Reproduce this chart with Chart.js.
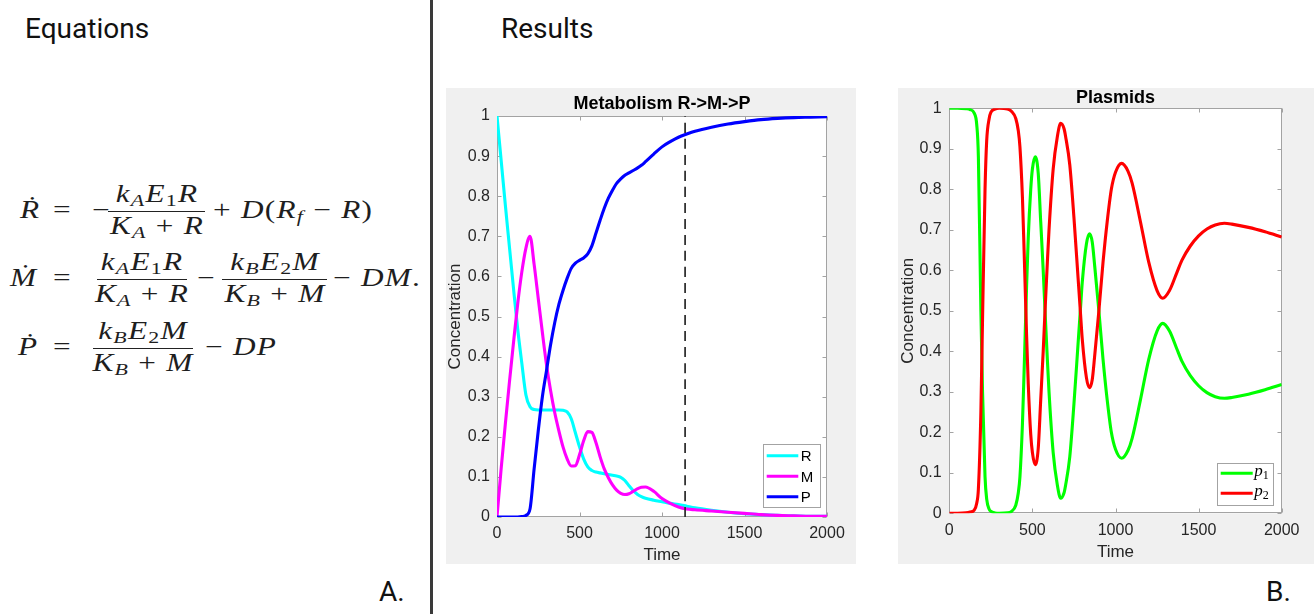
<!DOCTYPE html>
<html><head><meta charset="utf-8">
<script src="https://cdn.jsdelivr.net/npm/chart.js@4.4.0/dist/chart.umd.min.js"></script>
<style>
html,body{margin:0;padding:0;background:#fff;}
body{width:1314px;height:614px;position:relative;overflow:hidden;}
.hd{position:absolute;font-family:Roboto,sans-serif;font-size:28px;line-height:1;color:#111;top:calc(var(--b) - 0.8415em);white-space:nowrap}
.divider{position:absolute;left:430px;top:0;width:3px;height:614px;background:#3a3a3a}
.tok{position:absolute;font-family:'Liberation Serif',serif;font-size:25px;line-height:1;color:#1e1e1e;top:calc(var(--b) - 0.8375em);white-space:nowrap;letter-spacing:1px;transform-origin:0 0;transform:scaleX(1.25)}
.tok.c{transform-origin:50% 0;transform:translateX(-50%) scaleX(1.25)}
.tok i{font-style:italic}
.tok sub{font-size:0.7em;vertical-align:-0.25em;line-height:0}
.bar{position:absolute;height:1.3px;background:#222}
.box{position:absolute;background:#f0f0f0}
.box canvas{position:absolute;left:0;top:0}
</style></head>
<body>
<div class="hd" style="left:25px;--b:39px">Equations</div>
<div class="hd" style="left:501px;--b:38.5px">Results</div>
<div class="hd" style="left:379px;--b:601.5px">A.</div>
<div class="hd" style="left:1266px;--b:601.5px">B.</div>
<div class="divider"></div>

<!-- Row 1 -->
<div class="tok" style="left:20px;--b:217.5px"><i>Ṙ</i></div>
<div class="tok" style="left:53px;--b:217.5px">=</div>
<div class="tok" style="left:92px;--b:217.5px">−</div>
<div class="tok c" style="left:156.5px;--b:201.5px"><i>k</i><sub><i>A</i></sub><i>E</i><sub>1</sub><i>R</i></div>
<div class="bar" style="left:108px;top:210.5px;width:97px"></div>
<div class="tok c" style="left:156.5px;--b:233.5px"><i>K</i><sub><i>A</i></sub> + <i>R</i></div>
<div class="tok" style="left:213px;--b:217.5px">+ <i>D</i>(<i>R</i><sub><i>f</i></sub> − <i>R</i>)</div>

<!-- Row 2 -->
<div class="tok" style="left:10px;--b:286px"><i>Ṁ</i></div>
<div class="tok" style="left:53px;--b:286px">=</div>
<div class="tok c" style="left:142px;--b:270px"><i>k</i><sub><i>A</i></sub><i>E</i><sub>1</sub><i>R</i></div>
<div class="bar" style="left:97px;top:279px;width:90px"></div>
<div class="tok c" style="left:142px;--b:302px"><i>K</i><sub><i>A</i></sub> + <i>R</i></div>
<div class="tok" style="left:197px;--b:286px">−</div>
<div class="tok c" style="left:274.5px;--b:270px"><i>k</i><sub><i>B</i></sub><i>E</i><sub>2</sub><i>M</i></div>
<div class="bar" style="left:222px;top:279px;width:105px"></div>
<div class="tok c" style="left:274.5px;--b:302px"><i>K</i><sub><i>B</i></sub> + <i>M</i></div>
<div class="tok" style="left:333px;--b:286px">− <i>DM</i>.</div>

<!-- Row 3 -->
<div class="tok" style="left:18px;--b:354.5px"><i>Ṗ</i></div>
<div class="tok" style="left:53px;--b:354.5px">=</div>
<div class="tok c" style="left:143px;--b:338.5px"><i>k</i><sub><i>B</i></sub><i>E</i><sub>2</sub><i>M</i></div>
<div class="bar" style="left:93px;top:347.5px;width:100px"></div>
<div class="tok c" style="left:143px;--b:370.5px"><i>K</i><sub><i>B</i></sub> + <i>M</i></div>
<div class="tok" style="left:205px;--b:354.5px">− <i>DP</i></div>

<div class="box" style="left:446px;top:88px;width:410px;height:476px"><canvas id="c1" width="410" height="476"></canvas></div>
<div class="box" style="left:898px;top:88px;width:416px;height:476px"><canvas id="c2" width="416" height="476"></canvas></div>

<script>
// ---------- data ----------
const timeTicks = [0, 500, 1000, 1500, 2000];
const concTicks = [0, 0.1, 0.2, 0.3, 0.4, 0.5, 0.6, 0.7, 0.8, 0.9, 1];

const metabTime = [0,25,50,75,100,125,150,175,200,225,250,275,300,325,350,375,400,425,450,475,500,525,550,575,600,625,650,675,700,725,750,775,800,825,850,875,900,950,1000,1050,1100,1150,1200,1300,1400,1500,1600,1700,1800,1900,2000];
const metabR = [1.000,0.890,0.780,0.675,0.570,0.470,0.385,0.305,0.275,0.268,0.267,0.267,0.267,0.267,0.267,0.267,0.266,0.262,0.245,0.210,0.175,0.145,0.125,0.116,0.112,0.110,0.108,0.106,0.104,0.102,0.099,0.091,0.078,0.066,0.057,0.051,0.047,0.042,0.038,0.034,0.031,0.027,0.023,0.017,0.012,0.008,0.006,0.004,0.003,0.002,0.002];
const metabM = [0.000,0.120,0.230,0.335,0.435,0.530,0.610,0.670,0.700,0.630,0.545,0.460,0.380,0.315,0.260,0.215,0.175,0.145,0.127,0.128,0.155,0.190,0.213,0.211,0.185,0.150,0.120,0.098,0.080,0.067,0.059,0.056,0.058,0.064,0.070,0.074,0.075,0.064,0.046,0.034,0.025,0.020,0.018,0.015,0.012,0.009,0.006,0.004,0.003,0.002,0.002];
const metabP = [0.000,0.000,0.000,0.000,0.000,0.000,0.001,0.004,0.020,0.120,0.215,0.300,0.365,0.430,0.485,0.530,0.565,0.595,0.620,0.633,0.640,0.646,0.656,0.676,0.708,0.740,0.770,0.795,0.815,0.832,0.843,0.852,0.858,0.864,0.870,0.877,0.886,0.905,0.923,0.936,0.947,0.955,0.962,0.972,0.980,0.986,0.991,0.994,0.996,0.997,0.998];
const markerTime = 1140;

const plasmidTime = [0,50,100,125,150,165,175,190,200,215,225,240,250,275,300,350,375,400,415,425,440,450,465,475,490,500,517,535,550,565,576,590,600,625,650,670,690,700,725,750,775,790,800,825,843,860,875,900,925,950,975,1000,1037,1075,1100,1150,1200,1250,1284,1325,1368,1400,1450,1500,1550,1600,1655,1700,1800,1900,2000];
const plasmidP1 = [1.000,1.000,0.999,0.997,0.988,0.960,0.880,0.500,0.300,0.090,0.035,0.010,0.005,0.001,0.000,0.001,0.005,0.020,0.050,0.090,0.220,0.350,0.560,0.680,0.800,0.850,0.880,0.840,0.720,0.600,0.500,0.380,0.300,0.150,0.070,0.037,0.050,0.070,0.140,0.270,0.420,0.510,0.570,0.665,0.690,0.670,0.610,0.500,0.380,0.280,0.200,0.158,0.136,0.155,0.185,0.280,0.380,0.450,0.469,0.450,0.407,0.375,0.340,0.315,0.298,0.288,0.284,0.286,0.294,0.305,0.318];
const plasmidP2 = [0.000,0.000,0.001,0.003,0.008,0.025,0.060,0.250,0.480,0.800,0.920,0.975,0.990,0.998,1.000,0.998,0.992,0.975,0.945,0.905,0.780,0.650,0.440,0.320,0.195,0.150,0.120,0.160,0.280,0.400,0.500,0.620,0.700,0.850,0.930,0.963,0.950,0.930,0.860,0.730,0.580,0.490,0.430,0.335,0.310,0.330,0.390,0.500,0.620,0.720,0.800,0.842,0.864,0.845,0.815,0.720,0.620,0.550,0.531,0.550,0.593,0.625,0.660,0.685,0.702,0.712,0.716,0.714,0.706,0.695,0.682];

// ---------- helpers ----------
const pairs = (xs, ys) => xs.map((x, i) => ({x, y: ys[i]}));
const AXIS_COLOR = '#a3a3a3';
const TEXT_COLOR = '#262626';

const matlabPlugin = {
  id: 'matlab',
  beforeDraw(chart, args, o) {
    const {ctx, chartArea: a} = chart;
    ctx.save();
    ctx.fillStyle = '#fff';
    ctx.fillRect(a.left, a.top, a.right - a.left, a.bottom - a.top);
    // axes title, centred over the plot area
    ctx.fillStyle = '#000';
    ctx.font = 'bold 18px "Liberation Sans"';
    ctx.textAlign = 'center';
    ctx.textBaseline = 'alphabetic';
    ctx.fillText(o.title, (a.left + a.right) / 2, o.titleBaseline);
    ctx.restore();
  },
  beforeDatasetsDraw(chart) {
    const {ctx, chartArea: a, scales: {x, y}} = chart;
    const L = Math.round(a.left) + 0.5, R = Math.round(a.right) - 0.5;
    const T = Math.round(a.top) + 0.5, B = Math.round(a.bottom) - 0.5;
    ctx.save();
    ctx.strokeStyle = AXIS_COLOR;
    ctx.lineWidth = 1;
    ctx.strokeRect(L, T, R - L, B - T);
    const tl = 4;
    ctx.beginPath();
    x.ticks.forEach(t => {
      const px = Math.round(x.getPixelForValue(t.value)) + 0.5;
      ctx.moveTo(px, B); ctx.lineTo(px, B - tl);
      ctx.moveTo(px, T); ctx.lineTo(px, T + tl);
    });
    y.ticks.forEach(t => {
      const py = Math.round(y.getPixelForValue(t.value)) + 0.5;
      ctx.moveTo(L, py); ctx.lineTo(L + tl, py);
      ctx.moveTo(R, py); ctx.lineTo(R - tl, py);
    });
    ctx.stroke();
    ctx.restore();
  },
  afterDraw(chart, args, o) {
    const {ctx, chartArea: a} = chart;
    const lg = o.legend;
    const items = chart.data.datasets.filter(d => !d.hideInLegend);
    const x0 = a.right - lg.marginRight - lg.width;
    const y0 = a.bottom - lg.marginBottom - lg.height;
    ctx.save();
    ctx.fillStyle = '#fff';
    ctx.fillRect(x0, y0, lg.width, lg.height);
    ctx.strokeStyle = AXIS_COLOR;
    ctx.lineWidth = 1;
    ctx.strokeRect(Math.round(x0) + 0.5, Math.round(y0) + 0.5, Math.round(lg.width), Math.round(lg.height));
    items.forEach((d, i) => {
      const yy = y0 + lg.firstRow + i * lg.rowGap;
      ctx.strokeStyle = d.borderColor;
      ctx.lineWidth = d.borderWidth;
      ctx.beginPath();
      ctx.moveTo(x0 + lg.lineStart, yy);
      ctx.lineTo(x0 + lg.lineEnd, yy);
      ctx.stroke();
      ctx.fillStyle = '#000';
      ctx.textBaseline = 'alphabetic';
      ctx.textAlign = 'left';
      const parts = d.label.split('_');
      ctx.font = lg.font;
      ctx.fillText(parts[0], x0 + lg.textX, yy + lg.textDy);
      if (parts[1]) {
        const w = ctx.measureText(parts[0]).width;
        ctx.font = lg.subFont;
        ctx.fillText(parts[1], x0 + lg.textX + w, yy + lg.textDy + lg.subDy);
      }
    });
    ctx.restore();
  }
};

function makeChart(id, datasets, g) {
  return new Chart(document.getElementById(id), {
    type: 'line',
    data: {datasets},
    plugins: [matlabPlugin],
    options: {
      responsive: false,
      animation: false,
      devicePixelRatio: 1,
      layout: {padding: {top: g.padTop, right: g.padRight, left: 0, bottom: 0}},
      elements: {
        point: {radius: 0, hoverRadius: 0},
        line: {cubicInterpolationMode: 'monotone', fill: false}
      },
      plugins: {
        legend: {display: false},
        tooltip: {enabled: false},
        title: {display: false},
        matlab: {title: g.title, titleBaseline: g.titleBaseline, legend: g.legend}
      },
      scales: {
        x: {
          type: 'linear', min: 0, max: 2000,
          afterBuildTicks: s => { s.ticks = timeTicks.map(v => ({value: v})); },
          afterFit: s => { s.height = g.xH; },
          grid: {display: false, drawTicks: false},
          border: {display: false},
          ticks: {padding: g.xPad, color: TEXT_COLOR, maxRotation: 0, autoSkip: false,
                  font: {family: 'Liberation Sans', size: 16, lineHeight: 1.2},
                  callback: v => String(v)},
          title: {display: true, text: 'Time', color: TEXT_COLOR,
                  font: {family: 'Liberation Sans', size: 17, lineHeight: 1},
                  padding: {top: 0, bottom: g.xTitlePad}}
        },
        y: {
          type: 'linear', min: 0, max: 1,
          afterBuildTicks: s => { s.ticks = concTicks.map(v => ({value: v})); },
          afterFit: s => { s.width = g.yW; },
          grid: {display: false, drawTicks: false},
          border: {display: false},
          ticks: {padding: g.yPad, color: TEXT_COLOR, autoSkip: false,
                  font: {family: 'Liberation Sans', size: 16, lineHeight: 1.2},
                  callback: v => String(v)},
          title: {display: true, text: 'Concentration', color: TEXT_COLOR,
                  font: {family: 'Liberation Sans', size: 17, lineHeight: 1},
                  padding: {top: g.yTitlePad, bottom: 0}}
        }
      }
    }
  });
}

const LW = 3.1;

makeChart('c1', [
  {label: 'R', data: pairs(metabTime, metabR), borderColor: '#00ffff', borderWidth: LW, order: 3},
  {label: 'M', data: pairs(metabTime, metabM), borderColor: '#ff00ff', borderWidth: LW, order: 2},
  {label: 'P', data: pairs(metabTime, metabP), borderColor: '#0000ff', borderWidth: LW, order: 1},
  {label: 'marker', data: [{x: markerTime, y: 0}, {x: markerTime, y: 1}], borderColor: '#333333',
   borderWidth: 1.8, borderDash: [10, 6], hideInLegend: true, order: 0}
], {
  title: 'Metabolism R->M->P', titleBaseline: 20.5, padTop: 28, padRight: 29,
  xH: 47, yW: 51, xPad: 7, yPad: 7, xTitlePad: 0, yTitlePad: 0.5,
  legend: {marginRight: 6.3, marginBottom: 9.3, width: 57.4, height: 63.4, firstRow: 11.4, rowGap: 20.5,
           lineStart: 3.4, lineEnd: 35, textX: 37.5, textDy: 5.3, subDy: 0,
           font: '15px "Liberation Sans"', subFont: '11px "Liberation Sans"'}
});

makeChart('c2', [
  {label: 'p_1', data: pairs(plasmidTime, plasmidP1), borderColor: '#00ff00', borderWidth: LW, order: 2},
  {label: 'p_2', data: pairs(plasmidTime, plasmidP2), borderColor: '#ff0000', borderWidth: LW, order: 1}
], {
  title: 'Plasmids', titleBaseline: 14.5, padTop: 20.3, padRight: 32.3,
  xH: 50.7, yW: 51.3, xPad: 8, yPad: 7.6, xTitlePad: 3.5, yTitlePad: 1.5,
  legend: {marginRight: 8.4, marginBottom: 8.3, width: 56, height: 42.3, firstRow: 10.6, rowGap: 20,
           lineStart: 3.4, lineEnd: 35.4, textX: 37, textDy: 3, subDy: 3,
           font: 'italic 17px "Liberation Serif"', subFont: '12px "Liberation Serif"'}
});
</script>
</body></html>
